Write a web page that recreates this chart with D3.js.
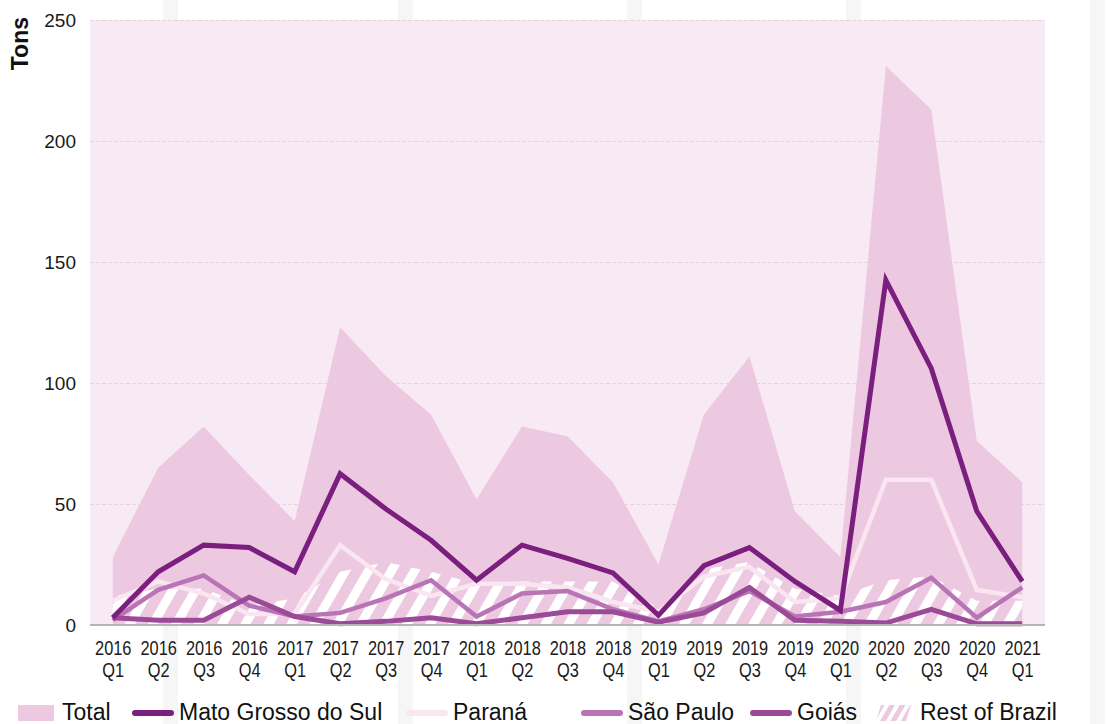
<!DOCTYPE html>
<html>
<head>
<meta charset="utf-8">
<script src="https://cdn.jsdelivr.net/npm/d3@7"></script>
<style>
  body { margin: 0; background: #fff; }
  svg { display: block; }
  .tick text { fill: #1a1a1a; }
</style>
</head>
<body>
<div id="chart"></div>
<script>
// quarters and values (tons)
const quarters = ["2016 Q1","2016 Q2","2016 Q3","2016 Q4","2017 Q1","2017 Q2","2017 Q3","2017 Q4",
  "2018 Q1","2018 Q2","2018 Q3","2018 Q4","2019 Q1","2019 Q2","2019 Q3","2019 Q4",
  "2020 Q1","2020 Q2","2020 Q3","2020 Q4","2021 Q1"];
const total = [28, 65, 82, 62, 43, 123, 103, 87, 52, 82, 78, 59, 25, 87, 111, 47, 28, 231, 213, 76, 59];
const matoGrosso = [3, 22, 33, 32, 22, 62.5, 48, 35, 18.5, 33, 27.5, 21.5, 4, 24.5, 32, 18, 6, 142.5, 106, 47, 18];
const parana = [10, 18, 13, 4.5, 4.5, 33, 19, 12, 17, 17, 15.5, 9.5, 5.5, 20, 24, 9.5, 11, 60, 60, 14.5, 11.5];
const saoPaulo = [2, 14.5, 20.5, 8, 3.5, 5, 11, 18.5, 3.5, 13, 14, 6.5, 1.5, 6.5, 14, 3.5, 5.5, 9.5, 19.5, 3, 15.5];
const goias = [3, 2, 2, 11.5, 3.5, 0.5, 1.5, 3, 0.5, 3, 5.5, 5.5, 1.2, 5, 15.5, 2, 1.5, 0.8, 6.5, 0.5, 0.5];
const restOfBrazil = [12, 15, 15, 8, 11, 22, 26, 22, 17, 18, 18, 18, 7, 23, 26, 15, 12, 18.5, 20, 10, 10];
const yTicks = [0, 50, 100, 150, 200, 250];

const W = 1106, H = 724;
const MARGIN = {top: 20, right: 61, bottom: 99, left: 90};

const svg = d3.select("#chart").append("svg")
  .attr("width", W).attr("height", H);

// hatch pattern for rest of Brazil
const defs = svg.append("defs");
defs.append("pattern")
    .attr("id", "hatch")
    .attr("patternUnits", "userSpaceOnUse")
    .attr("width", 20).attr("height", 20)
    .attr("patternTransform", "rotate(30)")
  .append("rect")
    .attr("x", 0).attr("y", 0).attr("width", 9).attr("height", 20)
    .attr("fill", "#ffffff");
defs.append("pattern")
    .attr("id", "hatchLegend")
    .attr("patternUnits", "userSpaceOnUse")
    .attr("width", 9).attr("height", 9)
    .attr("patternTransform", "rotate(30)")
  .call(p => p.append("rect").attr("width", 9).attr("height", 9).attr("fill", "#edc9e1"))
  .append("rect")
    .attr("width", 4).attr("height", 9).attr("fill", "#ffffff");

// faint background strokes
svg.append("g").selectAll("rect")
  .data([163, 398, 627, 846, 1090])
  .join("rect")
    .attr("x", d => d).attr("y", 0)
    .attr("width", 15).attr("height", H)
    .attr("fill", "#f5f6f5");

const x = d3.scalePoint()
    .domain(quarters)
    .range([MARGIN.left, W - MARGIN.right])
    .padding(0.5);

const y = d3.scaleLinear()
    .domain([0, 250])
    .range([H - MARGIN.bottom, MARGIN.top]);

// plot background
svg.append("rect")
  .attr("x", MARGIN.left).attr("y", y(250))
  .attr("width", W - MARGIN.right - MARGIN.left)
  .attr("height", y(0) - y(250))
  .attr("fill", "#f8eaf4");

// grid
svg.append("g")
  .attr("transform", `translate(${MARGIN.left},0)`)
  .call(d3.axisLeft(y).tickValues(yTicks.slice(1)).tickSize(-(W - MARGIN.right - MARGIN.left)).tickFormat(""))
  .call(g => g.select(".domain").remove())
  .selectAll("line")
    .attr("stroke", "#e6d3df")
    .attr("stroke-dasharray", "4,2");

// total area
svg.append("path")
  .datum(total)
  .attr("fill", "#edc9e1")
  .attr("d", d3.area()
    .x((d, i) => x(quarters[i]))
    .y0(y(0))
    .y1(d => y(d)));

// rest of Brazil hatched area
svg.append("path")
  .datum(restOfBrazil)
  .attr("fill", "url(#hatch)")
  .attr("d", d3.area()
    .x((d, i) => x(quarters[i]))
    .y0(y(0))
    .y1(d => y(d)));

const line = d3.line()
  .x((d, i) => x(quarters[i]))
  .y(d => y(d));

const series = [
  {name: "Paraná", values: parana, color: "#f9e6f1", width: 4.5},
  {name: "São Paulo", values: saoPaulo, color: "#b974b6", width: 4.5},
  {name: "Goiás", values: goias, color: "#9b4a98", width: 5},
  {name: "Mato Grosso do Sul", values: matoGrosso, color: "#7a1f7e", width: 5}
];

svg.append("g").selectAll("path")
  .data(series)
  .join("path")
    .attr("fill", "none")
    .attr("stroke", d => d.color)
    .attr("stroke-width", d => d.width)
    .attr("stroke-linejoin", "miter")
    .attr("d", d => line(d.values));

// baseline
svg.append("line")
  .attr("x1", MARGIN.left).attr("x2", W - MARGIN.right)
  .attr("y1", y(0)).attr("y2", y(0))
  .attr("stroke", "#b5b5b5").attr("stroke-width", 2);

// y axis labels
svg.append("g")
  .attr("transform", `translate(${MARGIN.left},0)`)
  .call(d3.axisLeft(y).tickValues(yTicks).tickSize(0).tickPadding(14))
  .call(g => g.select(".domain").remove())
  .selectAll("text")
    .attr("font-family", "Liberation Sans, Arial, sans-serif")
    .attr("font-size", 19);

svg.append("text")
  .attr("transform", "translate(28,17) rotate(-90)")
  .attr("text-anchor", "end")
  .attr("font-family", "Liberation Sans, Arial, sans-serif")
  .attr("font-weight", "bold")
  .attr("font-size", 23)
  .attr("fill", "#111")
  .text("Tons");

// x axis labels, two lines each, condensed
const xAxis = svg.append("g")
  .attr("transform", `translate(0,${y(0)})`)
  .call(d3.axisBottom(x).tickSize(0).tickFormat(""))
  .call(g => g.select(".domain").remove());

xAxis.selectAll(".tick").append("text")
  .attr("font-family", "Liberation Sans, Arial, sans-serif")
  .attr("font-size", 21)
  .attr("text-anchor", "middle")
  .attr("transform", "scale(0.78,1)")
  .attr("fill", "#111")
  .selectAll("tspan")
  .data(d => d.split(" "))
  .join("tspan")
    .attr("x", 0)
    .attr("y", (d, i) => 30 + i * 22)
    .text(d => d);

// legend
const legend = svg.append("g")
  .attr("font-family", "Liberation Sans, Arial, sans-serif")
  .attr("font-size", 23)
  .attr("fill", "#111");

const legendItems = [
  {name: "Total", kind: "area", x: 18},
  {name: "Mato Grosso do Sul", kind: "line", color: "#7a1f7e", x: 133},
  {name: "Paraná", kind: "line", color: "#f9e6f1", x: 407},
  {name: "São Paulo", kind: "line", color: "#b974b6", x: 582},
  {name: "Goiás", kind: "line", color: "#9b4a98", x: 751},
  {name: "Rest of Brazil", kind: "hatch", x: 876}
];

legendItems.forEach(it => {
  const g = legend.append("g").attr("transform", `translate(${it.x},0)`);
  let tx;
  if (it.kind === "area") {
    g.append("rect").attr("x", 0).attr("y", 705).attr("width", 36).attr("height", 16).attr("fill", "#edc9e1");
    tx = 44;
  } else if (it.kind === "line") {
    g.append("line").attr("x1", 2).attr("x2", 38).attr("y1", 713).attr("y2", 713)
      .attr("stroke", it.color).attr("stroke-width", 6).attr("stroke-linecap", "round");
    tx = 46;
  } else {
    g.append("path").attr("d", "M5,705 L35,705 L30,721 L0,721 Z").attr("fill", "url(#hatchLegend)");
    tx = 44;
  }
  g.append("text").attr("x", tx).attr("y", 720).text(it.name);
});
</script>
</body>
</html>
